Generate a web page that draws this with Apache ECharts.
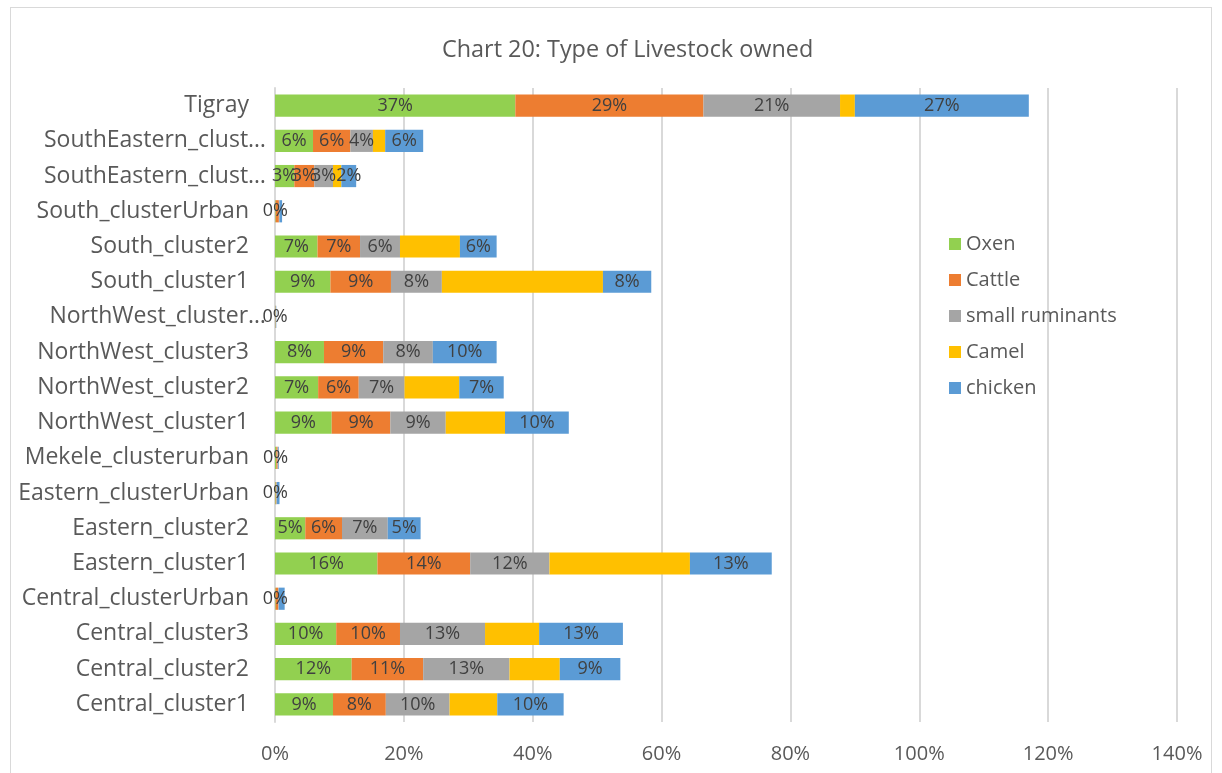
<!DOCTYPE html>
<html><head><meta charset="utf-8">
<script src="https://cdn.jsdelivr.net/npm/echarts@6/dist/echarts.min.js"></script>
<style>
html,body{margin:0;padding:0;background:#fff;}
#frame{position:absolute;left:10px;top:7px;width:1202px;height:800px;border:1px solid #d9d9d9;box-sizing:border-box;}
#main{position:absolute;left:0;top:0;width:1222px;height:773px;}
</style></head>
<body>
<div id="frame"></div>
<div id="main"></div>
<script>
const categories = ["Tigray","SouthEastern_clust\u2026","SouthEastern_clust\u2026","South_clusterUrban","South_cluster2","South_cluster1","NorthWest_cluster\u2026","NorthWest_cluster3","NorthWest_cluster2","NorthWest_cluster1","Mekele_clusterurban","Eastern_clusterUrban","Eastern_cluster2","Eastern_cluster1","Central_clusterUrban","Central_cluster3","Central_cluster2","Central_cluster1"];
const oxen    = [37.3, 5.9, 3.0, 0.1, 6.6, 8.6, 0.05, 7.6, 6.7, 8.8, 0.2, 0.1, 4.7, 15.9, 0.1, 9.5, 11.9, 9.0];
const cattle  = [29.2, 5.8, 3.1, 0.5, 6.6, 9.4, 0.05, 9.2, 6.3, 9.1, 0.2, 0.1, 5.7, 14.4, 0.4, 9.9, 11.1, 8.2];
const smallRuminants = [21.2, 3.5, 2.9, 0.1, 6.2, 7.9, 0.05, 7.7, 7.1, 8.6, 0.1, 0.1, 7.1, 12.3, 0.1, 13.2, 13.4, 9.9];
const camel   = [2.3, 1.9, 1.3, 0, 9.3, 25.0, 0, 0, 8.5, 9.2, 0, 0, 0, 21.8, 0, 8.4, 7.8, 7.4];
const chicken = [27.0, 5.9, 2.3, 0.4, 5.7, 7.5, 0.05, 9.9, 6.9, 9.9, 0.1, 0.4, 5.1, 12.7, 0.9, 13.0, 9.4, 10.3];
const xTicks = [0, 20, 40, 60, 80, 100, 120, 140];

const FONT = "'Open Sans', sans-serif";
const TXT = '#595959';
const totals = categories.map((_, i) => oxen[i] + cattle[i] + smallRuminants[i] + camel[i] + chicken[i]);

function mk(name, data, color, showLabel, isFirst){
  return {
    name, type:'bar', stack:'total', data, barCategoryGap:'37%',
    itemStyle:{color},
    label:{show:showLabel, position:'inside',
      formatter:p => (totals[p.dataIndex] < 2 && !isFirst) ? '' : Math.round(p.value)+'%',
      color:'#404040', fontSize:18, fontFamily:FONT},
    emphasis:{disabled:true}
  };
}
const chart = echarts.init(document.getElementById('main'), null, {renderer:'canvas'});
chart.setOption({
  animation:false,
  title:{text:'Chart 20: Type of Livestock owned', left:437, top:34, textStyle:{color:TXT, fontSize:23.4, fontWeight:'normal', fontFamily:FONT}},
  grid:{left:275, right:45, top:88, bottom:51, containLabel:false},
  legend:{orient:'vertical', left:944, top:229, itemWidth:12, itemHeight:12, itemGap:16, icon:'rect',
    textStyle:{color:TXT, fontSize:20, lineHeight:20, fontFamily:FONT}, data:['Oxen','Cattle','small ruminants','Camel','chicken']},
  xAxis:{type:'value', min:xTicks[0], max:xTicks[xTicks.length-1], interval:20,
    axisLine:{show:false}, axisTick:{show:false},
    splitLine:{lineStyle:{color:'#d9d9d9', width:2}},
    axisLabel:{formatter:'{value}%', color:TXT, fontSize:20, fontFamily:FONT, margin:22}},
  yAxis:{type:'category', data:categories, inverse:true,
    axisLine:{show:true, lineStyle:{color:'#d9d9d9', width:2}}, axisTick:{show:false},
    axisLabel:{color:TXT, fontSize:23, fontFamily:FONT, margin:9,
      formatter:v => v.indexOf('\u2026') >= 0 ? '{t|' + v + '}' : '{n|' + v + '}',
      rich:{
        n:{color:TXT, fontSize:23, fontFamily:FONT, padding:[0,17,0,0]},
        t:{color:TXT, fontSize:23, fontFamily:FONT, padding:[0,0,0,0]}
      }}},
  series:[
    mk('Oxen', oxen, '#92d050', true, true),
    mk('Cattle', cattle, '#ed7d31', true, false),
    mk('small ruminants', smallRuminants, '#a5a5a5', true, false),
    mk('Camel', camel, '#ffc000', false, false),
    mk('chicken', chicken, '#5b9bd5', true, false)
  ]
});
</script>
</body></html>
